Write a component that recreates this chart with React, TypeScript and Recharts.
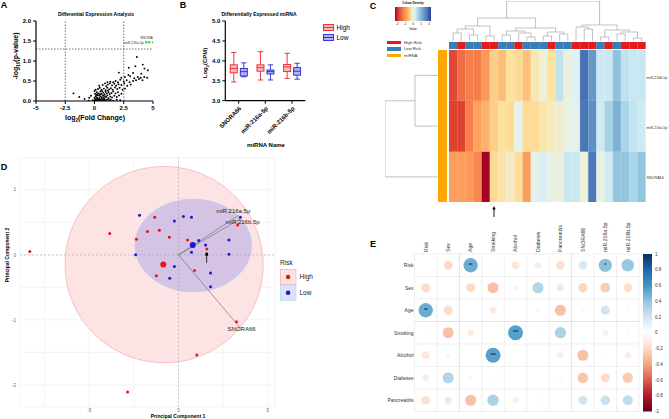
import React from 'react';
import {
  ScatterChart, Scatter, ComposedChart, BarChart, Bar, Cell, XAxis, YAxis,
  CartesianGrid, ReferenceLine, ReferenceArea,
} from 'recharts';

const FONT = '"Liberation Sans", Arial, sans-serif';

// ---------- A: volcano plot (log2 fold change, -log10 p)
const volcanoPoints: [number, number][] = [
  [-1.8, 0.19], [-1.3, 0.1], [-0.85, 0.05], [-0.45, 0.08], [-0.3, 0.13], [-0.15, 0.02], [-0.5, 0.01],
  [0.0, 0.01], [0.1, 0.02], [0.2, 0.0], [0.3, 0.03], [0.35, 0.01], [0.45, 0.02], [0.55, 0.04], [0.6, 0.01],
  [0.7, 0.02], [0.8, 0.03], [0.9, 0.01], [1.0, 0.02], [1.1, 0.04], [1.25, 0.02], [1.4, 0.03], [1.6, 0.01],
  [1.9, 0.03], [2.2, 0.02], [0.05, 0.05], [0.25, 0.06], [0.15, 0.04], [0.4, 0.05], [0.65, 0.06], [0.85, 0.05],
  [0.0, 0.08], [0.1, 0.12], [0.2, 0.09], [0.3, 0.14], [0.4, 0.07], [0.5, 0.11], [0.6, 0.09], [0.7, 0.13],
  [0.8, 0.08], [0.9, 0.12], [1.0, 0.1], [1.1, 0.14], [1.2, 0.07], [1.35, 0.11], [1.5, 0.09], [1.7, 0.13],
  [1.9, 0.1], [2.1, 0.14], [0.15, 0.15], [0.45, 0.15], [0.75, 0.14],
  [0.05, 0.18], [0.2, 0.22], [0.35, 0.19], [0.5, 0.24], [0.6, 0.18], [0.75, 0.21], [0.85, 0.17], [0.95, 0.23],
  [1.05, 0.19], [1.2, 0.22], [1.3, 0.17], [1.45, 0.2], [1.6, 0.24], [1.8, 0.19], [2.0, 0.22], [2.3, 0.18],
  [0.0, 0.25], [0.65, 0.25], [0.5, 0.17], [0.25, 0.17],
  [0.1, 0.28], [0.3, 0.3], [0.45, 0.33], [0.6, 0.28], [0.8, 0.31], [0.95, 0.27], [1.1, 0.33], [1.25, 0.29],
  [1.4, 0.32], [1.55, 0.28], [1.75, 0.34], [1.95, 0.3], [2.15, 0.33], [2.4, 0.28], [2.6, 0.31], [1.15, 0.26],
  [0.4, 0.38], [0.7, 0.4], [0.9, 0.44], [1.0, 0.37], [1.15, 0.41], [1.3, 0.44], [1.5, 0.39], [1.7, 0.43],
  [1.85, 0.38], [2.05, 0.42], [2.3, 0.4], [2.55, 0.44], [2.8, 0.38], [3.1, 0.41],
  [1.1, 0.47], [1.35, 0.48], [1.6, 0.47], [1.8, 0.5], [2.0, 0.47], [2.2, 0.53], [2.5, 0.49], [2.75, 0.52],
  [3.0, 0.47], [3.3, 0.5], [3.55, 0.52], [3.8, 0.55], [4.1, 0.52],
  [2.3, 0.58], [2.6, 0.6], [3.05, 0.62], [3.4, 0.57], [3.7, 0.6], [3.95, 0.58], [4.25, 0.6], [4.5, 0.58], [2.9, 0.65],
  [2.08, 0.71], [2.93, 0.83], [3.5, 0.87], [3.62, 1.1], [4.13, 0.91], [4.27, 0.81], [4.56, 0.77], [3.3, 0.7], [4.0, 0.68],
];
const hitNames = ['miR-216a-5p', 'SNORA66', 'miR-216b-5p'];
const hitLogFC = [4.42, 4.67, 5.0];
const hitLogP = [1.47, 1.47, 1.47];

// ---------- B: box plots, [min, q1, median, q3, max]
const mirnaNames = ['SNORA66', 'miR-216a-5p', 'miR-216b-5p'];
const highStats = [
  [3.47, 3.7, 3.81, 3.9, 4.21],
  [3.52, 3.74, 3.83, 3.9, 4.23],
  [3.56, 3.73, 3.85, 3.91, 4.19],
];
const lowStats = [
  [3.6, 3.62, 3.73, 3.81, 3.95],
  [3.52, 3.67, 3.73, 3.77, 3.9],
  [3.54, 3.64, 3.74, 3.83, 3.94],
];

// ---------- C: heatmap
const riskGroup = ['L', 'H', 'L', 'L', 'H', 'H', 'L', 'L', 'H', 'L', 'L', 'L', 'H', 'L', 'L', 'H', 'H', 'H', 'L', 'H', 'L', 'H', 'H', 'H'];
const heat216b = [-1.7, -1.35, -1.2, -1.2, -0.9, -0.4, -0.55, -0.25, -0.3, -0.5, -0.15, -0.02, -0.22, 0.42, 0.03, 0.15, 1.8, 1.35, 0.32, 0.33, 0.85, 0.42, 0.35, 0.35];
const heat216a = [-1.75, -1.75, -1.2, -0.8, -0.65, -0.4, -0.25, -0.3, 0.1, -0.3, -0.3, -0.2, -0.1, -0.05, 0.05, 0.1, 1.75, 1.45, 0.3, 0.65, 1.05, 0.6, 0.4, 0.3];
const heatSnora = [-0.85, -0.85, -0.9, -1.1, -2.2, -0.3, -0.2, -0.08, -0.28, -0.85, 0.1, 0.2, 0.05, 0.03, 0.35, 0.35, 0.0, 1.7, 0.05, 0.3, 0.8, 0.8, 0.6, 0.8];
const heatRowNames = ['miR.216b.5p', 'miR.216a.5p', 'SNORA66'];
// [child, child, height]; leaves 0..n-1, merges 100+k
const colMerges: [number, number, number][] = [
  [0, 1, 8], [2, 3, 6], [100, 101, 12], [4, 5, 5], [102, 103, 15],
  [6, 7, 6], [9, 10, 4], [8, 106, 8], [105, 107, 10], [11, 12, 5], [13, 14, 7], [109, 110, 9],
  [108, 111, 13], [104, 112, 23],
  [16, 17, 12], [15, 114, 14], [18, 19, 4], [20, 21, 7], [22, 23, 3], [117, 118, 9], [116, 119, 11],
  [115, 120, 16], [113, 121, 40],
];
const rowMerges: [number, number, number][] = [[0, 1, 25], [100, 2, 55]];

// ---------- D: PCA
const pcaHighPC1 = [-8.33, -3.85, -2.36, -1.74, -1.33, -1.07, -0.51, 0.51, 1.59, 3.32, -1.24, 0.9, 3.25, 1.03, -2.85];
const pcaHighPC2 = [0.05, 0.33, 0.24, 0.36, 0.58, 0.38, 0.27, 0.23, 0.09, 0.46, -0.32, -0.24, -1.03, -1.54, -2.11];
const pcaLowPC1 = [-2.18, -0.23, 0.28, 0.73, 3.47, 1.14, 1.52, 2.83, 0.73, 2.83, -2.4, -0.23, -0.49, 1.8, 1.8];
const pcaLowPC2 = [0.61, 0.52, 0.59, 0.58, 0.58, 0.22, 0.15, 0.23, 0.04, 0.01, 0.0, -0.18, -0.36, -0.28, -0.49];
const centroidHigh = [-0.85, -0.15];
const centroidLow = [0.8, 0.15];
const loadingNames = ['miR.216a.5p', 'miR.216b.5p', 'SNORA66'];
const loadingPC1 = [3.38, 3.45, 3.45];
const loadingPC2 = [0.61, 0.55, -1.12];
const highEllipse = { x1: -6.36, x2: 4.75, y1: -1.66, y2: 1.36 };
const lowEllipse = { x1: -2.44, x2: 4.1, y1: -0.57, y2: 0.86 };

// ---------- E: correlation matrix
const corrRowNames = ['Risk', 'Sex', 'Age', 'Smoking', 'Alcohol', 'Diabetes', 'Pancreatitis'];
const corrColNames = ['Risk', 'Sex', 'Age', 'Smoking', 'Alcohol', 'Diabetes', 'Pancreatitis', 'SNORA66', 'miR.216a.5p', 'miR.216b.5p'];
const corrValues: (number | null)[][] = [
  [null, -0.2, 0.5, 0.02, -0.14, 0.1, -0.18, 0.18, 0.42, 0.38],
  [-0.2, null, -0.2, -0.3, -0.06, 0.3, 0.13, -0.22, -0.25, -0.18],
  [0.5, -0.2, null, -0.11, 0, -0.04, -0.3, -0.04, 0.2, 0.03],
  [0.02, -0.3, -0.11, null, 0.55, -0.03, 0.32, 0.01, 0.08, 0.03],
  [-0.14, -0.06, 0, 0.55, null, 0.01, 0.09, -0.3, -0.03, -0.1],
  [0.1, 0.3, -0.04, -0.03, 0.01, null, -0.04, -0.28, -0.2, -0.26],
  [-0.18, 0.13, -0.3, 0.32, 0.09, -0.04, null, 0.2, 0.22, 0.25],
];
const corrStars: [number, number, string][] = [[0, 2, '**'], [2, 0, '**'], [0, 8, '*'], [3, 4, '***'], [4, 3, '***']];
const colorbarTicks = [1, 0.8, 0.6, 0.4, 0.2, 0, -0.2, -0.4, -0.6, -0.8, -1];

// ---------- colour helpers
const heatStops: [number, string][] = [
  [-2.2, '#a50026'], [-1.75, '#de4331'], [-1.2, '#f67e4b'], [-0.8, '#fba25e'], [-0.5, '#fdc27a'],
  [-0.25, '#fee19b'], [0, '#eef0d8'], [0.15, '#e0f2f5'], [0.4, '#c2e4f0'], [0.8, '#94c5df'],
  [1.3, '#6a9ccb'], [1.8, '#4472b4'], [2.2, '#313695'],
];
const rdbuStops: [number, string][] = [
  [-1, '#67001F'], [-0.8, '#B2182B'], [-0.6, '#D6604D'], [-0.4, '#F4A582'], [-0.2, '#FDDBC7'], [0, '#FFFFFF'],
  [0.2, '#D1E5F0'], [0.4, '#92C5DE'], [0.6, '#4393C3'], [0.8, '#2166AC'], [1, '#053061'],
];
function hex(c: string) {
  return [1, 3, 5].map((i) => parseInt(c.slice(i, i + 2), 16));
}
function ramp(stops: [number, string][], v: number) {
  if (v <= stops[0][0]) return stops[0][1];
  for (let i = 1; i < stops.length; i++) {
    if (v <= stops[i][0]) {
      const t = (v - stops[i - 1][0]) / (stops[i][0] - stops[i - 1][0]);
      const a = hex(stops[i - 1][1]), b = hex(stops[i][1]);
      return `rgb(${a.map((c, k) => Math.round(c + (b[k] - c) * t)).join(',')})`;
    }
  }
  return stops[stops.length - 1][1];
}

function Txt({ x, y, size, bold = false, color = '#000', rot = 0, align = 'c', children }: any) {
  const tx = align === 'l' ? '0%' : align === 'r' ? '-100%' : '-50%';
  return (
    <div style={{
      position: 'absolute', left: x, top: y, transform: `translate(${tx},-50%) rotate(${rot}deg)`,
      fontSize: size, fontWeight: bold ? 700 : 400, color, fontFamily: FONT, whiteSpace: 'nowrap', lineHeight: 1,
    }}>{children}</div>
  );
}

function dendroSegments(merges: [number, number, number][], nLeaves: number) {
  const pos: Record<number, [number, number]> = {};
  for (let i = 0; i < nLeaves; i++) pos[i] = [i, 0];
  const segs: [number, number, number, number][] = [];
  merges.forEach(([a, b, h], k) => {
    const [xa, ha] = pos[a];
    const [xb, hb] = pos[b];
    segs.push([xa, ha, xa, h], [xb, hb, xb, h], [xa, h, xb, h]);
    pos[100 + k] = [(xa + xb) / 2, h];
  });
  return segs;
}

// ================= A
const boldTick = { fontSize: 6, fontWeight: 700, fill: '#000', fontFamily: FONT };

const hitShape = (p: any) => {
  const n = p.payload.name;
  const mid = n === 'SNORA66';
  const left = n === 'miR-216a-5p';
  return (
    <g>
      <circle cx={p.cx} cy={p.cy} r={1.2} fill="#39d939" />
      <text x={p.cx + (mid ? -1 : left ? -2.5 : 2.5)} y={p.cy + (mid ? -2.8 : 1.6)} fontSize={3.4}
        textAnchor={mid ? 'middle' : left ? 'end' : 'start'} fill="#333" fontFamily={FONT}>{n}</text>
    </g>
  );
};

function VolcanoPanel() {
  const pts = volcanoPoints.map(([x, y]) => ({ x, y }));
  const hits = hitNames.map((name, i) => ({ x: hitLogFC[i], y: hitLogP[i], name }));
  const dash = { stroke: '#333', strokeDasharray: '1.5 1.5', strokeWidth: 0.7 };
  return (
    <div style={{ position: 'absolute', left: 0, top: 0 }}>
      <ScatterChart width={175} height={130} margin={{ top: 21, right: 22, bottom: 0, left: 0 }}>
        <XAxis type="number" dataKey="x" domain={[-5, 5]} ticks={[-5, -2.5, 0, 2.5, 5]} interval={0} height={29}
          axisLine={{ stroke: '#000', strokeWidth: 1.2 }} tickLine={{ stroke: '#000', strokeWidth: 1 }} tickSize={3}
          tick={boldTick} allowDataOverflow />
        <YAxis type="number" dataKey="y" domain={[0, 2]} ticks={[0, 0.5, 1, 1.5, 2]} interval={0} width={36}
          tickFormatter={(v: number) => v.toFixed(1)} axisLine={{ stroke: '#000', strokeWidth: 1.2 }}
          tickLine={{ stroke: '#000', strokeWidth: 1 }} tickSize={3} tick={boldTick} allowDataOverflow />
        <ReferenceLine x={-2.5} {...dash} />
        <ReferenceLine x={2.5} {...dash} />
        <ReferenceLine y={1.3} {...dash} />
        <Scatter data={pts} isAnimationActive={false}
          shape={(p: any) => <circle cx={p.cx} cy={p.cy} r={0.95} fill="#000" />} />
        <Scatter data={hits} isAnimationActive={false} shape={hitShape} />
      </ScatterChart>
      <Txt x={4} y={5} size={9} bold>A</Txt>
      <Txt x={96} y={14} size={5} bold>Differential Expression Analysis</Txt>
      <Txt x={17} y={56} size={7} bold rot={-90}>-log<sub style={{ fontSize: 4.5 }}>10</sub>(p-value)</Txt>
      <Txt x={95} y={119} size={7} bold>log<sub style={{ fontSize: 4.5 }}>2</sub>(Fold Change)</Txt>
    </div>
  );
}

// ================= B
function boxShape(statKey: string, stroke: string, fill: string) {
  return (p: any) => {
    const s: number[] = p.payload[statKey];
    const h = Math.abs(p.height);
    const top = p.height < 0 ? p.y + p.height : p.y;
    const py = (v: number) => top + ((s[4] - v) / (s[4] - s[0])) * h;
    const cx = p.x + p.width / 2;
    const cap = p.width * 0.38;
    return (
      <g stroke={stroke} strokeWidth={0.9}>
        <line x1={cx} x2={cx} y1={py(s[4])} y2={py(s[3])} />
        <line x1={cx} x2={cx} y1={py(s[1])} y2={py(s[0])} />
        <line x1={cx - cap} x2={cx + cap} y1={py(s[4])} y2={py(s[4])} />
        <line x1={cx - cap} x2={cx + cap} y1={py(s[0])} y2={py(s[0])} />
        <rect x={p.x} y={py(s[3])} width={p.width} height={py(s[1]) - py(s[3])} fill={fill} />
        <line x1={p.x} x2={p.x + p.width} y1={py(s[2])} y2={py(s[2])} />
      </g>
    );
  };
}

const RotTick = (p: any) => {
  const x = p.x + 2, y = p.y + 2;
  return (
    <text x={x} y={y} transform={`rotate(-45 ${x} ${y})`} textAnchor="end" dominantBaseline="middle"
      fontSize={6} fontWeight={700} fontFamily={FONT} fill="#000">{p.payload.value}</text>
  );
};

function LegendBox({ x, y, stroke, fill }: any) {
  return (
    <svg style={{ position: 'absolute', left: x, top: y }} width={11} height={7}>
      <rect x={0.5} y={0.5} width={10} height={6} fill={fill} stroke={stroke} strokeWidth={0.9} />
      <line x1={0.5} x2={10.5} y1={3.5} y2={3.5} stroke={stroke} strokeWidth={0.9} />
    </svg>
  );
}

function BoxPanel() {
  const data = mirnaNames.map((name, i) => ({
    name, high: [highStats[i][0], highStats[i][4]], low: [lowStats[i][0], lowStats[i][4]],
    hs: highStats[i], ls: lowStats[i],
  }));
  return (
    <>
      <div style={{ position: 'absolute', left: 180, top: 0 }}>
        <ComposedChart width={130} height={146} data={data} margin={{ top: 21, right: 4.7, bottom: 0, left: 0 }} barGap={3}>
          <XAxis dataKey="name" height={45.3} interval={0} tick={RotTick} tickSize={3}
            axisLine={{ stroke: '#000', strokeWidth: 1.2 }} tickLine={{ stroke: '#000' }} />
          <YAxis type="number" domain={[3, 5]} ticks={[3, 3.5, 4, 4.5, 5]} interval={0} width={45.3}
            tickFormatter={(v: number) => v.toFixed(1)} axisLine={{ stroke: '#000', strokeWidth: 1.2 }}
            tickLine={{ stroke: '#000' }} tickSize={3} tick={boldTick} />
          <Bar dataKey="high" barSize={7} isAnimationActive={false} shape={boxShape('hs', '#e8242a', '#f8bcbc')} />
          <Bar dataKey="low" barSize={7} isAnimationActive={false} shape={boxShape('ls', '#2424d8', '#b3b3f2')} />
        </ComposedChart>
      </div>
      <Txt x={183} y={5} size={9} bold>B</Txt>
      <Txt x={259} y={14} size={5} bold>Differentially Expressed miRNA</Txt>
      <Txt x={206} y={63} size={6} bold rot={-90}>Log<sub style={{ fontSize: 4 }}>2</sub>(CPM)</Txt>
      <Txt x={266} y={145} size={6} bold>miRNA Name</Txt>
      <LegendBox x={323} y={24} stroke="#e8242a" fill="#f8bcbc" />
      <LegendBox x={323} y={34} stroke="#2424d8" fill="#b3b3f2" />
      <Txt x={336.5} y={27.5} size={6.5} align="l">High</Txt>
      <Txt x={336.5} y={37.5} size={6.5} align="l">Low</Txt>
    </>
  );
}

// ================= C
function HeatmapPanel() {
  const table = riskGroup.map((g, i) => ({ col: i, snora: 1, a216: 1, b216: 1, band: 1 }));
  const colSegs = dendroSegments(colMerges, riskGroup.length);
  const rowSegs = dendroSegments(rowMerges, heatRowNames.length);
  const leaves = riskGroup.map((_, i) => ({ x: i, y: 0 }));
  const rows = [heatSnora, heat216a, heat216b];
  const keys = ['snora', 'a216', 'b216'];
  const gradient = `linear-gradient(to right, ${heatStops.map((s) => `${s[1]} ${((s[0] + 2.2) / 4.4) * 100}%`).join(',')})`;
  const lineStyle = { stroke: '#a6a6a6', strokeWidth: 0.7, ifOverflow: 'visible' as const };
  return (
    <>
      <Txt x={373} y={6} size={9} bold>C</Txt>
      {/* colour key */}
      <Txt x={413} y={3} size={3} bold>Colour Density</Txt>
      <div style={{ position: 'absolute', left: 395, top: 6.7, width: 35.7, height: 14, background: gradient }} />
      {[-2, -1, 0, 1, 2].map((v) => (
        <Txt key={v} x={397 + (v + 2) * 8} y={24} size={3}>{v}</Txt>
      ))}
      <Txt x={413} y={29.3} size={3}>Value</Txt>
      {/* annotation legend */}
      <div style={{ position: 'absolute', left: 386.7, top: 40.7, width: 14.3, height: 3.3, background: '#e41a1c' }} />
      <div style={{ position: 'absolute', left: 386.7, top: 47.3, width: 14.3, height: 3.3, background: '#377eb8' }} />
      <div style={{ position: 'absolute', left: 386.7, top: 54, width: 14.3, height: 3.3, background: '#ffa500' }} />
      <Txt x={404} y={42.6} size={4.2} align="l" color="#333">High Risk</Txt>
      <Txt x={404} y={49.3} size={4.2} align="l" color="#333">Low Risk</Txt>
      <Txt x={404} y={56} size={4.2} align="l" color="#333">miRNA</Txt>

      {/* column dendrogram */}
      <div style={{ position: 'absolute', left: 449.3, top: 0.5 }}>
        <ScatterChart width={196.7} height={40} margin={{ top: 0, right: 0, bottom: 0, left: 0 }}>
          <XAxis type="number" dataKey="x" domain={[-0.5, 23.5]} hide allowDataOverflow />
          <YAxis type="number" dataKey="y" domain={[0, 40]} hide allowDataOverflow />
          {colSegs.map(([x1, y1, x2, y2], i) => (
            <ReferenceLine key={i} segment={[{ x: x1, y: y1 }, { x: x2, y: y2 }]} {...lineStyle} />
          ))}
          <Scatter data={leaves} isAnimationActive={false} shape={() => <g />} />
        </ScatterChart>
      </div>

      {/* row dendrogram */}
      <div style={{ position: 'absolute', left: 385, top: 50 }}>
        <ScatterChart width={55} height={152.3} margin={{ top: 0, right: 0, bottom: 0, left: 0 }}>
          <XAxis type="number" dataKey="x" domain={[0, 55]} reversed hide allowDataOverflow />
          <YAxis type="number" dataKey="y" domain={[-0.5, 2.5]} reversed hide allowDataOverflow />
          {rowSegs.map(([r1, h1, r2, h2], i) => (
            <ReferenceLine key={i} segment={[{ x: h1, y: r1 }, { x: h2, y: r2 }]} {...lineStyle} />
          ))}
          <Scatter data={heatRowNames.map((_, i) => ({ x: 0, y: i }))} isAnimationActive={false} shape={() => <g />} />
        </ScatterChart>
      </div>

      {/* miRNA side bar */}
      <div style={{ position: 'absolute', left: 438.3, top: 50, width: 9, height: 152.3, background: '#ffa500' }} />

      {/* risk annotation */}
      <div style={{ position: 'absolute', left: 449.3, top: 42.3 }}>
        <BarChart width={196.7} height={7} data={table} margin={{ top: 0, right: 0, bottom: 0, left: 0 }} barCategoryGap={0}>
          <XAxis dataKey="col" hide />
          <YAxis domain={[0, 1]} hide />
          <Bar dataKey="band" isAnimationActive={false}>
            {riskGroup.map((g, i) => {
              const c = g === 'H' ? '#e41a1c' : '#377eb8';
              return <Cell key={i} fill={c} stroke={c} strokeWidth={0.3} />;
            })}
          </Bar>
        </BarChart>
      </div>

      {/* heatmap */}
      <div style={{ position: 'absolute', left: 449.3, top: 50 }}>
        <BarChart width={196.7} height={152.3} data={table} margin={{ top: 0, right: 0, bottom: 0, left: 0 }} barCategoryGap={0}>
          <XAxis dataKey="col" hide />
          <YAxis domain={[0, 3]} hide />
          {keys.map((k, r) => (
            <Bar key={k} dataKey={k} stackId="h" isAnimationActive={false}>
              {rows[r].map((v, i) => {
                const c = ramp(heatStops, v);
                return <Cell key={i} fill={c} stroke={c} strokeWidth={0.3} />;
              })}
            </Bar>
          ))}
        </BarChart>
      </div>
      {heatRowNames.map((n, i) => (
        <Txt key={n} x={646.5} y={79 + i * 50} size={3.7} align="l" color="#333">{n}</Txt>
      ))}
      <svg style={{ position: 'absolute', left: 490.4, top: 205 }} width={8} height={13}>
        <line x1={4} x2={4} y1={3} y2={12} stroke="#000" strokeWidth={0.9} />
        <path d="M4 1 L2.3 4.5 L5.7 4.5 Z" fill="#000" />
      </svg>
    </>
  );
}

// ================= D
const ellipseShape = (fill: string, stroke: string, rot: number) => (p: any) => {
  const w = Math.abs(p.width), h = Math.abs(p.height);
  const cx = p.x + p.width / 2, cy = p.y + p.height / 2;
  return <ellipse cx={cx} cy={cy} rx={w / 2} ry={h / 2} fill={fill} stroke={stroke} strokeWidth={0.6}
    transform={`rotate(${rot} ${cx} ${cy})`} />;
};

const loadingShape = (p: any) => {
  const n = p.payload.name;
  const off: Record<string, [number, number]> = { 'miR.216a.5p': [-5.5, -3.3], 'miR.216b.5p': [2.6, 3], SNORA66: [1.6, 1.6] };
  const [dx, dy] = off[n];
  return (
    <text x={p.cx + dx} y={p.cy + dy} textAnchor="middle" dominantBaseline="middle" fontSize={6}
      fill="#222" fontFamily={FONT}>{n}</text>
  );
};

const arrowShape = (p: any) => (
  <g>
    <circle cx={p.cx} cy={p.cy} r={1.4} fill="#000" />
    <line x1={p.cx} x2={p.cx} y1={p.cy + 9} y2={p.cy + 1} stroke="#000" strokeWidth={0.8} />
    <path d={`M${p.cx} ${p.cy - 1.5} L${p.cx - 1.5} ${p.cy + 1.8} L${p.cx + 1.5} ${p.cy + 1.8} Z`} fill="#000" />
  </g>
);

function PcaPanel() {
  const high = pcaHighPC1.map((x, i) => ({ x, y: pcaHighPC2[i] }));
  const low = pcaLowPC1.map((x, i) => ({ x, y: pcaLowPC2[i] }));
  const loads = loadingNames.map((name, i) => ({ x: loadingPC1[i], y: loadingPC2[i], name }));
  const grayTick = { fontSize: 4.6, fill: '#666', fontFamily: FONT };
  const dot = (r: number, c: string) => (p: any) => <circle cx={p.cx} cy={p.cy} r={r} fill={c} />;
  return (
    <>
      <div style={{ position: 'absolute', left: 0, top: 140 }}>
        <ScatterChart width={280} height={279} margin={{ top: 18, right: 5, bottom: 2, left: 0 }}>
          <CartesianGrid stroke="#ececec" strokeWidth={0.6} />
          <XAxis type="number" dataKey="x" domain={[-8.88, 5.41]} ticks={[-7.5, -5, -2.5, 0, 2.5, 5]} interval={0}
            tickFormatter={(v: number) => (Number.isInteger(v) ? String(v) : '')} axisLine={false} tickLine={false}
            tickSize={0} tickMargin={2} height={10} tick={grayTick} allowDataOverflow />
          <YAxis type="number" dataKey="y" domain={[-2.34, 1.49]} ticks={[-2, -1.5, -1, -0.5, 0, 0.5, 1]} interval={0}
            tickFormatter={(v: number) => (Number.isInteger(v) ? String(v) : '')} axisLine={false} tickLine={false}
            tickSize={0} tickMargin={4} width={20} tick={grayTick} allowDataOverflow />
          <ReferenceArea {...highEllipse} shape={ellipseShape('#fde3e3', '#f3a3a3', 7)} ifOverflow="visible" />
          <ReferenceArea {...lowEllipse} shape={ellipseShape('rgba(110,110,235,0.28)', '#9fdcea', 0)} ifOverflow="visible" />
          <ReferenceLine x={0} stroke="#9a9a9a" strokeDasharray="2 2" strokeWidth={0.5} />
          <ReferenceLine y={0} stroke="#9a9a9a" strokeDasharray="2 2" strokeWidth={0.5} />
          {loads.map((l, i) => (
            <ReferenceLine key={i} segment={[{ x: 0, y: 0 }, { x: l.x, y: l.y }]} stroke="#666" strokeWidth={0.6} ifOverflow="visible" />
          ))}
          <Scatter data={high} isAnimationActive={false} shape={dot(1.5, '#e8141c')} />
          <Scatter data={low} isAnimationActive={false} shape={dot(1.5, '#1a1ad6')} />
          <Scatter data={[{ x: centroidHigh[0], y: centroidHigh[1] }]} isAnimationActive={false} shape={dot(3, '#e8141c')} />
          <Scatter data={[{ x: centroidLow[0], y: centroidLow[1] }]} isAnimationActive={false} shape={dot(3, '#1a1ad6')} />
          <Scatter data={[{ x: 1.58, y: 0.015 }]} isAnimationActive={false} shape={arrowShape} />
          <Scatter data={loads} isAnimationActive={false} shape={loadingShape} />
        </ScatterChart>
      </div>
      <Txt x={4} y={167} size={9} bold>D</Txt>
      <Txt x={178} y={416} size={5} bold>Principal Component 1</Txt>
      <Txt x={7} y={255} size={5} bold rot={-90}>Principal Component 2</Txt>
      <Txt x={280} y={263} size={6.5} align="l" color="#222">Risk</Txt>
      <svg style={{ position: 'absolute', left: 280, top: 269 }} width={17} height={33}>
        <rect x={0.3} y={0.3} width={15.7} height={15.4} fill="#fde3e3" stroke="#f3a3a3" strokeWidth={0.6} />
        <circle cx={8.1} cy={8} r={2.3} fill="#e8141c" />
        <rect x={0.3} y={16} width={15.7} height={15.4} fill="#e2dff8" stroke="#9fdcea" strokeWidth={0.6} />
        <circle cx={8.1} cy={23.7} r={2.3} fill="#1a1ad6" />
      </svg>
      <Txt x={299.5} y={277} size={6.5} align="l" color="#222">High</Txt>
      <Txt x={299.5} y={293} size={6.5} align="l" color="#222">Low</Txt>
    </>
  );
}

// ================= E
const CELL = 22.45;
const corrShape = (p: any) => {
  const v = p.payload.r;
  if (!v) return <g />;
  const rad = 0.45 * Math.sqrt(Math.abs(v)) * CELL;
  return (
    <g>
      <circle cx={p.cx} cy={p.cy} r={rad} fill={ramp(rdbuStops, v)} />
      {p.payload.star && (
        <text x={p.cx} y={p.cy} textAnchor="middle" dominantBaseline="central" fontSize={4.5} fontWeight={700}
          fill="#0b1f6e" fontFamily={FONT}>{p.payload.star}</text>
      )}
    </g>
  );
};

const ColTick = (p: any) => {
  const x = p.x + 1.8, y = p.y;
  return (
    <text x={x} y={y} transform={`rotate(-90 ${x} ${y})`} fontSize={5.2} fill="#333" fontFamily={FONT}>
      {corrColNames[p.payload.value]}
    </text>
  );
};

function CorrPanel() {
  const pts: any[] = [];
  corrValues.forEach((row, i) => row.forEach((v, j) => {
    if (v === null) return;
    const s = corrStars.find((c) => c[0] === i && c[1] === j);
    pts.push({ x: j, y: i, r: v, star: s ? s[2] : '' });
  }));
  const xs = corrColNames.map((_, j) => j);
  const ys = corrRowNames.map((_, i) => i);
  return (
    <>
      <Txt x={373} y={244} size={9} bold>E</Txt>
      <div style={{ position: 'absolute', left: 360, top: 200 }}>
        <ScatterChart width={280} height={212} margin={{ top: 0, right: 1, bottom: 0.5, left: 0 }}>
          <XAxis type="number" dataKey="x" orientation="top" domain={[-0.5, 9.5]} ticks={xs} interval={0} height={54}
            axisLine={false} tickLine={false} tickSize={0} tickMargin={2} tick={ColTick} allowDataOverflow />
          <YAxis type="number" dataKey="y" reversed domain={[-0.5, 6.5]} ticks={ys} interval={0} width={54.5}
            axisLine={false} tickLine={false} tickSize={0} tickMargin={1}
            tick={{ fontSize: 5, fill: '#333', fontFamily: FONT }} tickFormatter={(v: number) => corrRowNames[v]} allowDataOverflow />
          {[...xs, 10].map((j) => (
            <ReferenceLine key={'v' + j} x={j - 0.5} stroke={j === 2 || j === 7 ? '#cfcfcf' : '#e6e6e6'} strokeWidth={0.6} ifOverflow="visible" />
          ))}
          {[...ys, 7].map((i) => (
            <ReferenceLine key={'h' + i} y={i - 0.5} stroke={i === 3 ? '#cfcfcf' : '#e6e6e6'} strokeWidth={0.6} ifOverflow="visible" />
          ))}
          <Scatter data={pts} isAnimationActive={false} shape={corrShape} />
        </ScatterChart>
      </div>
      <div style={{ position: 'absolute', left: 643, top: 250 }}>
        <BarChart width={30} height={165.5} data={[{ k: 'bar', span: [-1, 1] }]} margin={{ top: 4, right: 0, bottom: 4, left: 0 }} barCategoryGap={0}>
          <defs>
            <linearGradient id="rdbu" x1="0" y1="0" x2="0" y2="1">
              {rdbuStops.slice().reverse().map(([v, c], i) => (
                <stop key={i} offset={`${((1 - v) / 2) * 100}%`} stopColor={c} />
              ))}
            </linearGradient>
          </defs>
          <XAxis dataKey="k" hide />
          <YAxis orientation="right" type="number" domain={[-1, 1]} ticks={colorbarTicks} interval={0} width={21}
            axisLine={false} tickLine={false} tickSize={0} tickMargin={3}
            tick={{ fontSize: 4.5, fill: '#333', fontFamily: FONT, textAnchor: 'start' }}
            tickFormatter={(v: number) => String(Math.round(v * 10) / 10)} />
          <Bar dataKey="span" fill="url(#rdbu)" isAnimationActive={false} />
        </BarChart>
      </div>
    </>
  );
}

export default function App() {
  return (
    <div style={{ position: 'fixed', left: 0, top: 0, width: 669, height: 419, background: '#fff', overflow: 'hidden', fontFamily: FONT }}>
      <VolcanoPanel />
      <BoxPanel />
      <HeatmapPanel />
      <PcaPanel />
      <CorrPanel />
    </div>
  );
}
